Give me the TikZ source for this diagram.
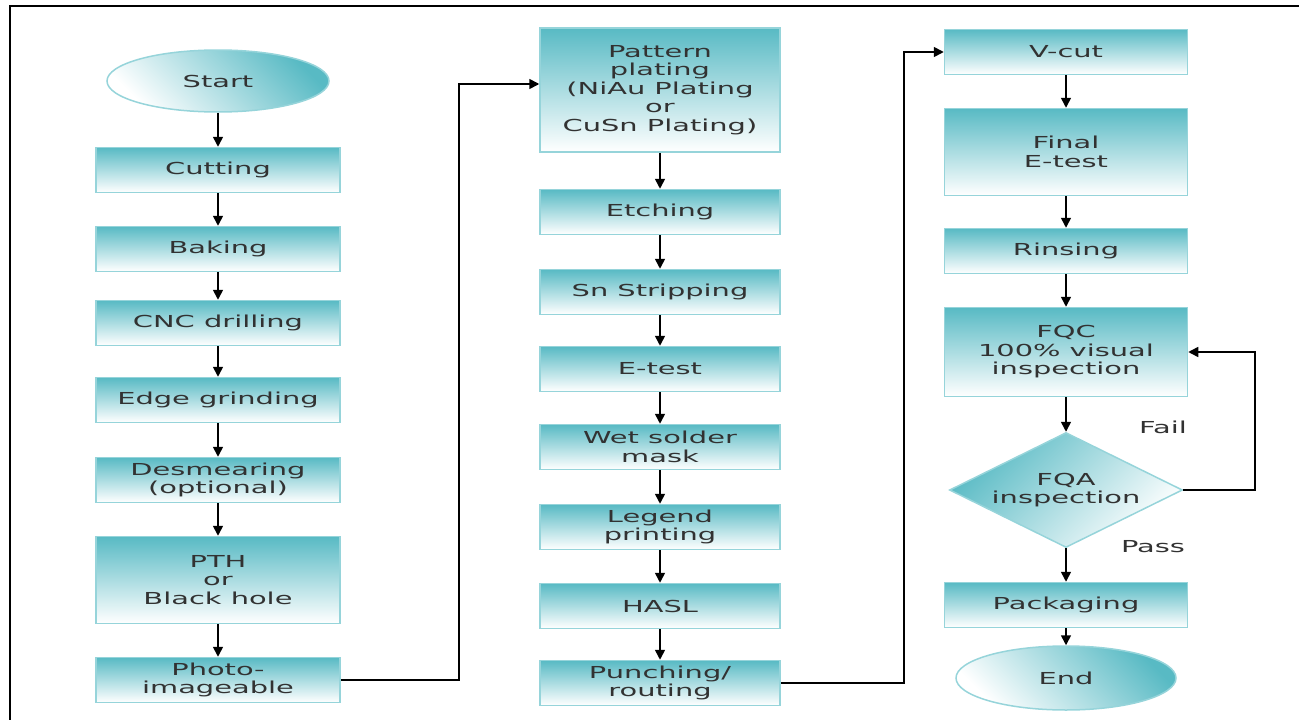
\documentclass[tikz,border=0pt]{standalone}
\usepackage{fontspec}
\setmainfont[FakeStretch=1.75]{DejaVu Sans}
\usepackage{tikz}
\usetikzlibrary{shapes.geometric, arrows.meta}
\definecolor{azul}{RGB}{88,186,196}
\definecolor{borda}{RGB}{150,212,218}
\definecolor{texto}{RGB}{50,50,50}

\begin{document}
\begin{tikzpicture}[x=1pt, y=-1pt,
    every node/.style={font=\fontsize{16.5}{18.5}\selectfont, text=texto},
    caixa/.style={draw=borda, line width=1.5pt, top color=azul, bottom color=white,
        minimum width=244pt, minimum height=45pt, inner sep=0pt, align=center},
    oval/.style={ellipse, draw=borda, line width=1.5pt, top color=azul, bottom color=white,
        shading angle=-45, minimum width=222pt, minimum height=62pt, inner sep=0pt},
    losango/.style={diamond, draw=borda, line width=1.5pt, top color=azul, bottom color=white,
        shading angle=45, minimum width=233pt, minimum height=115pt, aspect=2,
        inner sep=0pt, align=center},
    seta/.style={-{Triangle[length=10pt,width=10pt]}, line width=1.6pt}]
    \useasboundingbox (0,0) rectangle (1299,720);

    % Moldura
    \draw[line width=2pt] (1299,6) -- (10,6) -- (10,720);

    % Coluna 1
    \node[oval] (start) at (218,81) {Start};
    \foreach \nome/\y/\h/\txt in {cutting/170/45/Cutting, baking/249/45/Baking,
        cnc/323/45/CNC drilling, edge/400/45/Edge grinding,
        desmear/480/45/{Desmearing\\(optional)}, pth/580/87/{PTH\\or\\Black hole},
        photo/680/45/{Photo-\\imageable}} {
        \node[caixa, minimum height=\h pt] (\nome) at (218,\y) {\txt};
    }

    % Coluna 2
    \foreach \nome/\y/\h/\txt in {pattern/90/124/{Pattern\\plating\\(NiAu Plating\\or\\CuSn Plating)},
        etching/212/45/Etching, snstrip/292/45/Sn Stripping, etest/369/45/E-test,
        wetmask/447/45/{Wet solder\\mask}, legend/527/45/{Legend\\printing},
        hasl/606/45/HASL, punching/683/45/{Punching/\\routing}} {
        \node[caixa, minimum width=240pt, minimum height=\h pt] (\nome) at (660,\y) {\txt};
    }

    % Coluna 3
    \foreach \nome/\y/\h/\txt in {vcut/52/45/V-cut, final/152/87/{Final\\E-test},
        rinsing/251/45/Rinsing, fqc/352/89/{FQC\\100\% visual\\inspection},
        packaging/605/45/Packaging} {
        \node[caixa, minimum width=243pt, minimum height=\h pt] (\nome) at (1066,\y) {\txt};
    }
    \node[losango] (fqa) at (1066,490) {FQA\\inspection};
    \node[oval, minimum width=220pt, minimum height=64pt] (finish) at (1066,678) {End};

    % Setas
    \foreach \a/\b in {start/cutting, cutting/baking, baking/cnc, cnc/edge, edge/desmear,
        desmear/pth, pth/photo, pattern/etching, etching/snstrip, snstrip/etest,
        etest/wetmask, wetmask/legend, legend/hasl, hasl/punching, vcut/final,
        final/rinsing, rinsing/fqc, fqc/fqa, fqa/packaging, packaging/finish}
        \draw[seta] (\a) -- (\b);

    \draw[seta] (photo.east) -- ++(118,0) |- ([yshift=6pt]pattern.west);
    \draw[seta] (punching.east) -- ++(123,0) |- (vcut.west);
    \draw[seta] (fqa.east) -- ++(72,0) |- (fqc.east);

    \node (fail) at (1163,427) {Fail};
    \node (pass) at (1153,547) {Pass};
\end{tikzpicture}
\end{document}
